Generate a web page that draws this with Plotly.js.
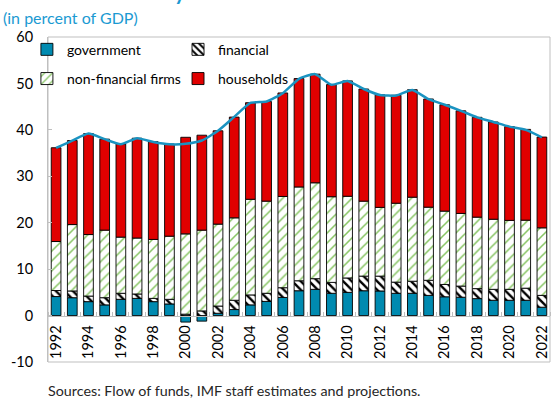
<!DOCTYPE html>
<html>
<head>
<meta charset="utf-8">
<script src="https://cdn.plot.ly/plotly-3.0.1.min.js"></script>
<style>
  html, body { margin: 0; padding: 0; background: #ffffff; }
  #chart { width: 553px; height: 403px; }
</style>
</head>
<body>
<div id="chart"></div>
<script>
// ---- data (percent of GDP) ----
const years = [1992,1993,1994,1995,1996,1997,1998,1999,2000,2001,2002,2003,2004,2005,2006,2007,2008,2009,2010,2011,2012,2013,2014,2015,2016,2017,2018,2019,2020,2021,2022];
const government = [4.1,3.85,3.0,2.3,3.5,3.7,3.0,2.5,-1.4,-1.2,0.5,1.3,2.3,3.05,3.9,5.35,5.65,4.8,5.0,5.35,5.3,4.8,4.8,4.35,4.05,3.95,3.65,3.3,3.3,3.3,1.8];
const financial = [1.3,1.45,1.2,1.55,1.3,0.95,0.7,1.0,0.3,1.0,1.55,2.0,2.15,1.75,2.1,2.15,2.3,2.35,3.1,3.15,3.2,2.4,2.6,3.25,2.65,2.4,2.15,2.35,2.35,2.6,2.55];
const nonFinancialFirms = [10.55,14.3,13.25,14.55,12.1,12.05,12.7,13.6,17.3,17.4,17.65,17.75,20.6,19.85,19.65,20.2,20.65,18.45,17.6,16.15,14.8,17.0,18.1,15.75,15.8,15.65,15.4,15.1,14.85,14.65,14.55];
const households = [20.2,18.1,21.75,19.6,20.05,21.5,21.05,19.85,20.8,20.45,20.1,21.7,20.8,21.45,22.3,23.35,23.4,24.15,24.85,24.15,24.25,23.25,23.15,23.3,22.9,22.1,21.5,20.95,20.2,19.55,19.55];
const total = [36.1,37.7,39.2,38.0,36.9,38.2,37.4,36.9,37.0,37.7,39.8,42.8,45.8,46.1,47.9,51.0,52.0,49.7,50.5,48.8,47.5,47.4,48.6,46.6,45.4,44.1,42.7,41.7,40.7,40.0,38.4];
const tickYears = [1992,1994,1996,1998,2000,2002,2004,2006,2008,2010,2012,2014,2016,2018,2020,2022];
const tickLabels = ["1992","1994","1996","1998","2000","2002","2004","2006","2008","2010","2012","2014","2016","2018","2020","2022"];
const yTicks = [-10,0,10,20,30,40,50,60];
const yTickLabels = ["-10","0","10","20","30","40","50","60"];
const seriesNames = ["government","financial","non-financial firms","households"];
const titleText = "Total Gross Debt by Sector";
const subtitleText = "(in percent of GDP)";
const sourceText = "Sources: Flow of funds, IMF staff estimates and projections.";

// ---- styling ----
const FONT = "Lato, 'Open Sans', sans-serif";
const yMin = -10, yMax = 60;
const outline = {color: "#000000", width: 0.9};
const barW = 0.6;

const traces = [
  {type: "bar", name: seriesNames[0], x: years, y: government, width: barW,
   marker: {color: "#008ab0", line: outline}, legend: "legend", legendgroup: "g1"},
  {type: "bar", name: seriesNames[1], x: years, y: financial, width: barW,
   marker: {color: "#ffffff", line: outline,
            pattern: {shape: "\\", fgcolor: "#000000", bgcolor: "#ffffff", size: 6, solidity: 0.4}},
   legend: "legend2", legendgroup: "g2"},
  {type: "bar", name: seriesNames[2], x: years, y: nonFinancialFirms, width: barW,
   marker: {color: "#ffffff", line: outline,
            pattern: {shape: "/", fgcolor: "#86c462", bgcolor: "#ffffff", size: 7, solidity: 0.22}},
   legend: "legend", legendgroup: "g3"},
  {type: "bar", name: seriesNames[3], x: years, y: households, width: barW,
   marker: {color: "#e00000", line: outline}, legend: "legend2", legendgroup: "g4"},
  {type: "scatter", mode: "lines", name: "total", x: years, y: total, showlegend: false,
   line: {color: "#1a93c1", width: 2.5, shape: "spline", smoothing: 0.5}, hoverinfo: "skip"}
];

const legendCommon = {
  orientation: "v", yanchor: "top", y: 1.01, xanchor: "left",
  bgcolor: "rgba(0,0,0,0)", borderwidth: 0,
  font: {family: FONT, size: 14, color: "#000000"},
  traceorder: "grouped", tracegroupgap: 8, itemwidth: 30
};

const layout = {
  width: 553, height: 403,
  margin: {l: 48, r: 3, t: 37, b: 41, pad: 0},
  paper_bgcolor: "#ffffff", plot_bgcolor: "#ffffff",
  barmode: "relative",
  font: {family: FONT, size: 14, color: "#000000"},
  showlegend: true,
  legend: Object.assign({}, legendCommon, {x: -0.042}),
  legend2: Object.assign({}, legendCommon, {x: 0.259}),
  xaxis: {
    type: "linear", range: [1991.5, 2022.5],
    anchor: "free", position: (0 - yMin) / (yMax - yMin),
    tickmode: "array", tickvals: tickYears, ticktext: tickLabels,
    tickangle: -90, ticks: "", ticklabelstandoff: 3,
    tickfont: {family: FONT, size: 14.5, color: "#000000"},
    showline: true, linecolor: "#bfbfbf", linewidth: 1,
    showgrid: false, zeroline: false,
    minor: {tickmode: "linear", tick0: 1991.5, dtick: 1, ticks: "inside", ticklen: 4, tickcolor: "#bfbfbf", showgrid: false}
  },
  yaxis: {
    range: [yMin, yMax], tickmode: "array", tickvals: yTicks, ticktext: yTickLabels,
    ticks: "inside", ticklen: 4, tickcolor: "#bfbfbf",
    ticklabelstandoff: 11,
    tickfont: {family: FONT, size: 14.5, color: "#000000"},
    showline: true, linecolor: "#bfbfbf", linewidth: 1,
    showgrid: false, zeroline: false
  },
  shapes: [
    {type: "rect", xref: "paper", yref: "paper", x0: 0, x1: 1, y0: 0, y1: 1,
     line: {color: "#bfbfbf", width: 1}, fillcolor: "rgba(0,0,0,0)", layer: "above"}
  ],
  annotations: [
    {text: "<b>" + titleText + "</b>", xref: "paper", yref: "paper", x: -0.095, y: 1.094,
     xanchor: "left", yanchor: "bottom", showarrow: false,
     font: {family: FONT, size: 21, color: "#1b9ad2"}},
    {text: subtitleText, xref: "paper", yref: "paper", x: -0.093, y: 1.0615,
     xanchor: "left", yanchor: "middle", showarrow: false,
     font: {family: FONT, size: 16, color: "#1b9ad2"}},
    {text: sourceText, xref: "paper", yref: "paper", x: -0.004, y: -0.088,
     xanchor: "left", yanchor: "middle", showarrow: false,
     font: {family: FONT, size: 14.3, color: "#262626"}}
  ]
};

Plotly.newPlot("chart", traces, layout, {displayModeBar: false, staticPlot: true});
</script>
</body>
</html>
